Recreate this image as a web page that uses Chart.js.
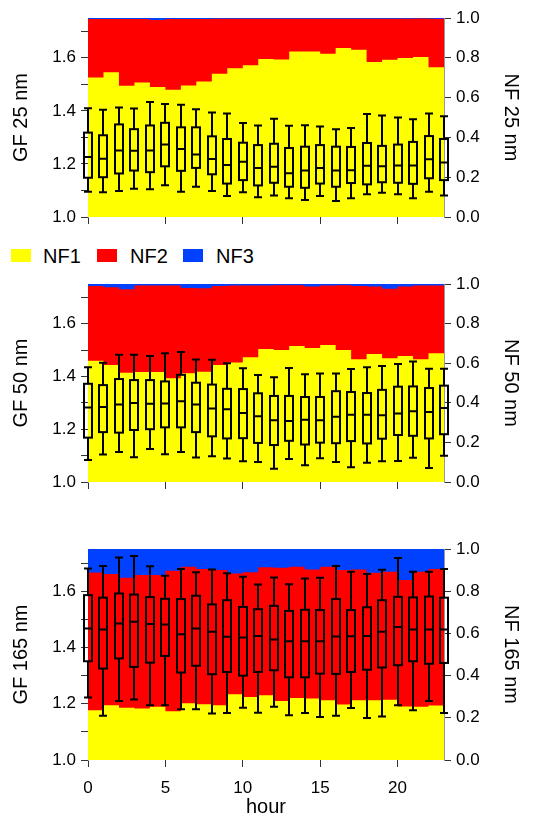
<!DOCTYPE html>
<html>
<head>
<meta charset="utf-8">
<script src="https://cdn.jsdelivr.net/npm/chart.js@4.4.1/dist/chart.umd.min.js"></script>
<style>
  body { margin: 0; background: #fff; width: 542px; height: 819px; position: relative; overflow: hidden;
         font-family: Arial, "Liberation Sans", sans-serif; }
  .panel { position: absolute; left: 0; width: 542px; }
  .legend { position: absolute; left: 0; top: 244px; height: 24px; width: 300px; font-size: 20px; color: #000; }
  .legend span { position: absolute; top: 0; line-height: 24px; }
  .legend i { position: absolute; top: 5px; width: 20px; height: 13px; }
</style>
</head>
<body>
<div class="panel" style="top:0;height:240px"><canvas id="c25" width="542" height="240"></canvas></div>
<div class="legend">
  <i style="left:11px;background:#ffff00"></i><span style="left:43px">NF1</span>
  <i style="left:97px;background:#ff0000"></i><span style="left:130px">NF2</span>
  <i style="left:183px;background:#0040ff"></i><span style="left:216px">NF3</span>
</div>
<div class="panel" style="top:268px;height:232px"><canvas id="c50" width="542" height="232"></canvas></div>
<div class="panel" style="top:530px;height:289px"><canvas id="c165" width="542" height="289"></canvas></div>
<script>
var hours = [0,1,2,3,4,5,6,7,8,9,10,11,12,13,14,15,16,17,18,19,20,21,22,23];

// number fractions (stacked), 25 nm
var nf1_25 = [0.701,0.727,0.659,0.676,0.653,0.639,0.661,0.681,0.720,0.747,0.763,0.794,0.792,0.832,0.832,0.820,0.849,0.841,0.779,0.790,0.799,0.804,0.752,0.752];
var nf2_25 = [0.294,0.268,0.336,0.319,0.337,0.356,0.334,0.314,0.276,0.249,0.233,0.202,0.204,0.164,0.164,0.176,0.147,0.155,0.217,0.206,0.197,0.194,0.244,0.244];
var nf3_25 = [0.005,0.005,0.005,0.005,0.010,0.005,0.005,0.005,0.004,0.004,0.004,0.004,0.004,0.004,0.004,0.004,0.004,0.004,0.004,0.004,0.004,0.002,0.004,0.004];

// GF box stats, 25 nm
var low_25  = [1.095,1.093,1.098,1.106,1.105,1.120,1.095,1.114,1.098,1.079,1.093,1.074,1.081,1.071,1.064,1.079,1.060,1.071,1.086,1.091,1.086,1.071,1.095,1.081];
var q1_25   = [1.148,1.150,1.164,1.175,1.169,1.191,1.174,1.185,1.161,1.126,1.139,1.119,1.129,1.114,1.110,1.126,1.114,1.128,1.123,1.131,1.129,1.125,1.146,1.139];
var med_25  = [1.226,1.220,1.251,1.250,1.251,1.273,1.256,1.236,1.219,1.196,1.208,1.185,1.189,1.165,1.175,1.185,1.175,1.176,1.193,1.191,1.194,1.194,1.218,1.205];
var q3_25   = [1.318,1.308,1.349,1.331,1.345,1.355,1.338,1.338,1.304,1.294,1.280,1.271,1.276,1.260,1.265,1.271,1.265,1.264,1.279,1.268,1.273,1.283,1.305,1.294];
var high_25 = [1.410,1.404,1.413,1.409,1.433,1.426,1.423,1.406,1.394,1.390,1.354,1.345,1.370,1.344,1.346,1.341,1.331,1.335,1.388,1.383,1.375,1.368,1.390,1.380];

// 50 nm
var nf1_50 = [0.613,0.591,0.552,0.555,0.555,0.524,0.549,0.557,0.591,0.603,0.630,0.672,0.667,0.687,0.677,0.692,0.667,0.620,0.646,0.625,0.636,0.620,0.650,0.650];
var nf2_50 = [0.377,0.392,0.421,0.438,0.438,0.468,0.431,0.421,0.399,0.390,0.362,0.321,0.327,0.307,0.310,0.300,0.327,0.370,0.341,0.351,0.351,0.373,0.343,0.343];
var nf3_50 = [0.010,0.017,0.027,0.007,0.007,0.008,0.020,0.022,0.010,0.007,0.008,0.007,0.006,0.006,0.013,0.008,0.006,0.010,0.013,0.024,0.013,0.007,0.007,0.007];

var low_50  = [1.083,1.104,1.114,1.094,1.125,1.105,1.114,1.093,1.098,1.089,1.079,1.076,1.050,1.087,1.063,1.090,1.076,1.056,1.073,1.079,1.080,1.092,1.053,1.099];
var q1_50   = [1.168,1.189,1.187,1.197,1.200,1.207,1.207,1.189,1.173,1.165,1.166,1.148,1.140,1.156,1.142,1.149,1.147,1.155,1.146,1.164,1.178,1.175,1.165,1.181];
var med_50  = [1.282,1.284,1.294,1.299,1.296,1.297,1.306,1.294,1.278,1.276,1.261,1.249,1.234,1.231,1.236,1.234,1.247,1.255,1.255,1.253,1.259,1.268,1.265,1.280];
var q3_50   = [1.372,1.367,1.390,1.386,1.386,1.381,1.406,1.376,1.369,1.353,1.352,1.336,1.326,1.326,1.322,1.322,1.344,1.341,1.337,1.349,1.361,1.362,1.356,1.365];
var high_50 = [1.435,1.452,1.482,1.482,1.477,1.488,1.492,1.464,1.463,1.450,1.431,1.405,1.397,1.432,1.408,1.411,1.411,1.428,1.435,1.439,1.447,1.456,1.429,1.429];

// 165 nm
var nf1_165 = [0.236,0.259,0.248,0.244,0.252,0.231,0.269,0.264,0.259,0.312,0.299,0.307,0.280,0.294,0.291,0.283,0.263,0.283,0.283,0.286,0.253,0.252,0.258,0.258];
var nf2_165 = [0.653,0.622,0.616,0.633,0.625,0.666,0.647,0.641,0.641,0.572,0.591,0.606,0.631,0.622,0.612,0.633,0.637,0.620,0.605,0.606,0.600,0.640,0.647,0.647];
var nf3_165 = [0.111,0.119,0.136,0.123,0.123,0.103,0.084,0.095,0.100,0.116,0.110,0.087,0.089,0.084,0.097,0.084,0.100,0.097,0.112,0.108,0.147,0.108,0.095,0.095];

var low_165  = [1.222,1.157,1.210,1.215,1.195,1.195,1.180,1.180,1.165,1.167,1.186,1.168,1.189,1.159,1.167,1.153,1.157,1.185,1.149,1.155,1.195,1.177,1.210,1.167];
var q1_165   = [1.351,1.325,1.361,1.331,1.346,1.370,1.311,1.335,1.305,1.313,1.300,1.313,1.319,1.294,1.294,1.307,1.306,1.313,1.321,1.329,1.337,1.351,1.342,1.345];
var med_165  = [1.467,1.464,1.485,1.491,1.483,1.482,1.447,1.467,1.456,1.438,1.435,1.441,1.428,1.422,1.422,1.422,1.439,1.440,1.441,1.456,1.473,1.464,1.464,1.464];
var q3_165   = [1.586,1.577,1.592,1.588,1.579,1.573,1.572,1.584,1.553,1.568,1.544,1.536,1.548,1.530,1.534,1.533,1.572,1.533,1.543,1.568,1.580,1.578,1.581,1.577];
var high_165 = [1.681,1.690,1.720,1.725,1.689,1.655,1.679,1.667,1.677,1.664,1.651,1.624,1.649,1.625,1.645,1.648,1.690,1.669,1.661,1.676,1.718,1.669,1.669,1.679];

var nfColors = ['#ffff00', '#ff0000', '#0040ff'];

Chart.defaults.font.family = 'Arial, "Liberation Sans", sans-serif';
Chart.defaults.color = '#000';

function toPoints(values) {
  return hours.map(function (h, i) { return { x: h, y: values[i] }; });
}

// box-and-whisker marks, drawn through the chart's own x / y scales
function boxPlugin(low, q1, med, q3, high) {
  return {
    id: 'gfBoxes',
    afterDatasetsDraw: function (chart) {
      var xs = chart.scales.x, ys = chart.scales.y, ctx = chart.ctx;
      ctx.save();
      ctx.strokeStyle = '#000';
      ctx.lineWidth = 2;
      hours.forEach(function (h, i) {
        var cx = Math.round(xs.getPixelForValue(h));
        var yl = ys.getPixelForValue(low[i]);
        var y1 = ys.getPixelForValue(q1[i]);
        var ym = ys.getPixelForValue(med[i]);
        var y3 = ys.getPixelForValue(q3[i]);
        var yh = ys.getPixelForValue(high[i]);
        ctx.beginPath();
        ctx.moveTo(cx, yh); ctx.lineTo(cx, y3);
        ctx.moveTo(cx, y1); ctx.lineTo(cx, yl);
        ctx.moveTo(cx - 4, yh); ctx.lineTo(cx + 4, yh);
        ctx.moveTo(cx - 4, yl); ctx.lineTo(cx + 4, yl);
        ctx.moveTo(cx - 4, ym); ctx.lineTo(cx + 4, ym);
        ctx.stroke();
        ctx.strokeRect(cx - 4, y3, 8, y1 - y3);
      });
      ctx.restore();
    }
  };
}

function makeChart(id, size, nf, box, padTop, xHeight, showX) {
  var labels = ['NF1', 'NF2', 'NF3'];
  var datasets = nf.map(function (vals, k) {
    return {
      label: labels[k],
      data: toPoints(vals),
      yAxisID: 'y2',
      stepped: true,
      fill: 'origin',
      backgroundColor: nfColors[k],
      borderColor: nfColors[k],
      borderWidth: 0,
      pointRadius: 0
    };
  });

  return new Chart(document.getElementById(id), {
    type: 'line',
    data: { datasets: datasets },
    plugins: [boxPlugin(box[0], box[1], box[2], box[3], box[4])],
    options: {
      responsive: false,
      animation: false,
      events: [],
      layout: { padding: { left: 5, right: 15, top: padTop, bottom: 0 } },
      plugins: { legend: { display: false }, tooltip: { enabled: false } },
      scales: {
        x: {
          type: 'linear', position: 'bottom', min: 0, max: 23,
          grid: { drawOnChartArea: false, tickLength: 7, tickColor: '#333' },
          border: { display: false },
          ticks: {
            stepSize: 5, includeBounds: false, padding: 11, maxRotation: 0, autoSkip: false,
            font: { size: 17 }, color: '#000',
            callback: function (v) { return showX ? String(v) : ''; }
          },
          title: { display: showX, text: 'hour', font: { size: 20 }, color: '#000', padding: 0 },
          afterFit: function (s) { s.height = xHeight; }
        },
        y: {
          type: 'linear', position: 'left', min: 1.0, max: 1.75, z: 1,
          grid: { drawOnChartArea: false, tickLength: 7, tickColor: '#333' },
          border: { display: true, color: '#999', width: 1 },
          ticks: {
            stepSize: 0.1, includeBounds: false, padding: 5, autoSkip: false,
            font: { size: 17 }, color: '#000',
            callback: function (v) {
              var k = Math.round(v * 10);
              return k % 2 === 0 ? (k / 10).toFixed(1) : '';
            }
          },
          title: { display: true, text: 'GF ' + size + ' nm', font: { size: 20 }, color: '#000' },
          afterFit: function (s) { s.width = 83; }
        },
        y2: {
          type: 'linear', position: 'right', min: 0, max: 1, stacked: true, z: 1,
          grid: { drawOnChartArea: false, tickLength: 7, tickColor: '#333' },
          border: { display: true, color: '#999', width: 1 },
          ticks: {
            stepSize: 0.2, padding: 5, autoSkip: false,
            font: { size: 17 }, color: '#000',
            callback: function (v) { return v.toFixed(1); }
          },
          title: { display: true, text: 'NF ' + size + ' nm', font: { size: 20 }, color: '#000' },
          afterFit: function (s) { s.width = 83; }
        }
      }
    }
  });
}

makeChart('c25', 25, [nf1_25, nf2_25, nf3_25], [low_25, q1_25, med_25, q3_25, high_25], 18, 23, false);
makeChart('c50', 50, [nf1_50, nf2_50, nf3_50], [low_50, q1_50, med_50, q3_50, high_50], 16, 18, false);
makeChart('c165', 165, [nf1_165, nf2_165, nf3_165], [low_165, q1_165, med_165, q3_165, high_165], 19, 59, true);
</script>
</body>
</html>
